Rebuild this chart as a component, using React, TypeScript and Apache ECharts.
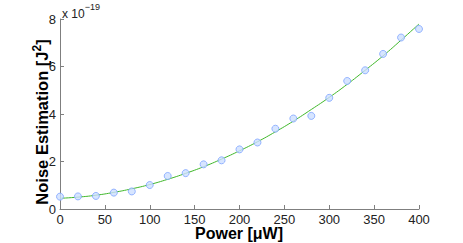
import React, { useEffect, useRef } from "react";
import * as echarts from "echarts";

const powerValues = [0, 20, 40, 60, 80, 100, 120, 140, 160, 180, 200, 220, 240, 260, 280, 300, 320, 340, 360, 380, 400];
const measuredNoise = [0.52, 0.53, 0.55, 0.69, 0.74, 1.01, 1.39, 1.51, 1.88, 2.05, 2.51, 2.8, 3.38, 3.81, 3.92, 4.68, 5.39, 5.84, 6.53, 7.22, 7.58];
const fitNoise = [0.45, 0.5, 0.58, 0.7, 0.85, 1.03, 1.25, 1.5, 1.78, 2.1, 2.45, 2.83, 3.25, 3.7, 4.19, 4.7, 5.25, 5.84, 6.45, 7.11, 7.79];
const xTicks = [0, 50, 100, 150, 200, 250, 300, 350, 400];
const yTicks = [0, 2, 4, 6, 8];

export default function App() {
  const ref = useRef<HTMLDivElement>(null);
  useEffect(() => {
    if (!ref.current) return;
    const chart = echarts.init(ref.current, undefined, { renderer: "svg" });
    const font = "Liberation Sans, Arial, Helvetica, sans-serif";
    chart.setOption({
      animation: false,
      backgroundColor: "#ffffff",
      grid: { left: 60, right: 44, top: 19, bottom: 34 },
      xAxis: {
        type: "value",
        min: xTicks[0],
        max: xTicks[xTicks.length - 1],
        interval: 50,
        axisLine: { show: true, lineStyle: { color: "#7f7f7f", width: 1 } },
        axisTick: { show: true, inside: true, length: 4, lineStyle: { color: "#7f7f7f" } },
        axisLabel: { color: "#222", fontSize: 13, fontFamily: font, margin: 4, lineHeight: 12 },
        splitLine: { show: false },
      },
      yAxis: {
        type: "value",
        min: yTicks[0],
        max: yTicks[yTicks.length - 1],
        interval: 2,
        axisLine: { show: true, lineStyle: { color: "#7f7f7f", width: 1 } },
        axisTick: { show: true, inside: true, length: 4, lineStyle: { color: "#7f7f7f" } },
        axisLabel: { color: "#222", fontSize: 13, fontFamily: font, margin: 4 },
        splitLine: { show: false },
      },
      graphic: [
        {
          type: "text",
          x: 62,
          y: 2,
          style: {
            text: "{a|x 10}{b|−19}",
            fill: "#222",
            fontFamily: font,
            rich: {
              a: { fontSize: 12, fontFamily: font, fill: "#222", padding: [6, 0, 0, 0] },
              b: { fontSize: 9, fontFamily: font, fill: "#222", verticalAlign: "top" },
            },
          },
        },
        {
          type: "text",
          x: 39,
          y: 122,
          rotation: Math.PI / 2,
          style: {
            text: "{a|Noise Estimation [J}{b|2}{a|]}",
            fill: "#000",
            align: "center",
            verticalAlign: "middle",
            fontFamily: font,
            rich: {
              a: { fontSize: 16.5, fontWeight: "bold", fontFamily: font, fill: "#000", padding: [5, 0, 0, 0], lineHeight: 17 },
              b: { fontSize: 12, fontWeight: "bold", fontFamily: font, fill: "#000", verticalAlign: "top" },
            },
          },
        },
        {
          type: "text",
          x: 239,
          y: 233.5,
          style: {
            text: "Power [μW]",
            fill: "#000",
            align: "center",
            verticalAlign: "middle",
            fontSize: 16,
            lineHeight: 14,
            fontWeight: "bold",
            fontFamily: font,
          },
        },
      ],
      series: [
        {
          type: "line",
          data: powerValues.map((p, i) => [p, fitNoise[i]]),
          smooth: true,
          symbol: "none",
          lineStyle: { color: "#3fb82a", width: 1 },
          z: 2,
        },
        {
          type: "scatter",
          data: powerValues.map((p, i) => [p, measuredNoise[i]]),
          symbol: "circle",
          symbolSize: 7,
          itemStyle: { color: "#cddfff", borderColor: "#7ea4ff", borderWidth: 1 },
          z: 3,
        },
      ],
    });
    return () => chart.dispose();
  }, []);
  return <div ref={ref} style={{ width: 463, height: 243, position: "absolute", left: 0, top: 0 }} />;
}
